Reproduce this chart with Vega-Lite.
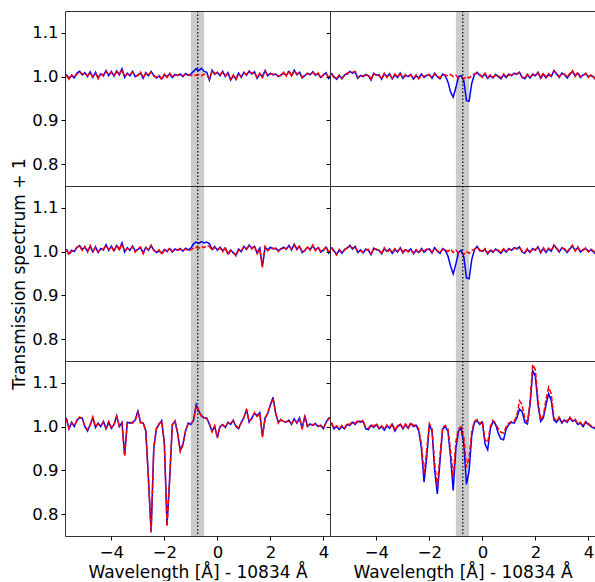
{
"$schema": "https://vega.github.io/schema/vega-lite/v6.json",
"padding": {"left": 10, "top": 9, "right": 0, "bottom": 0},
"config": {
  "font": "DejaVu Sans",
  "view": {"stroke": "#333", "strokeWidth": 1},
  "axis": {"labelFont": "DejaVu Sans", "titleFont": "DejaVu Sans", "labelFontSize": 16.5, "titleFontSize": 17, "titleFontWeight": "normal", "labelColor": "#000", "titleColor": "#000", "tickColor": "#000", "domain": false, "grid": false, "tickSize": 4, "labelFlush": false}
},
"data": {"values": [
{"x":-5.7,"a":1.005,"b":1.003,"c":1.006,"d":1.004,"e":1.02,"f":1.018,"g":1.008,"h":1.006,"i":1.01,"j":1.008,"k":1.008,"l":1.01},
{"x":-5.6,"a":0.996,"b":0.994,"c":0.995,"d":0.993,"e":0.995,"f":0.996,"g":1.0,"h":0.998,"i":1.002,"j":1.0,"k":0.995,"l":0.997},
{"x":-5.5,"a":1.002,"b":1.004,"c":1.003,"d":1.001,"e":1.01,"f":1.008,"g":0.994,"h":0.996,"i":0.994,"j":0.992,"k":1.0,"l":1.002},
{"x":-5.4,"a":0.997,"b":0.999,"c":1.0,"d":1.002,"e":1.0,"f":1.002,"g":1.002,"h":1.004,"i":1.003,"j":1.005,"k":0.993,"l":0.995},
{"x":-5.3,"a":1.008,"b":1.006,"c":1.009,"d":1.011,"e":1.015,"f":1.013,"g":0.995,"h":0.997,"i":0.996,"j":0.998,"k":1.0,"l":1.003},
{"x":-5.2,"a":1.012,"b":1.01,"c":1.014,"d":1.012,"e":1.02,"f":1.022,"g":1.004,"h":1.002,"i":1.005,"j":1.003,"k":0.995,"l":0.997},
{"x":-5.1,"a":1.004,"b":1.006,"c":1.005,"d":1.003,"e":1.02,"f":1.018,"g":1.006,"h":1.008,"i":1.008,"j":1.01,"k":1.005,"l":1.007},
{"x":-5.0,"a":1.009,"b":1.007,"c":1.01,"d":1.012,"e":1.0,"f":1.002,"g":1.012,"h":1.01,"i":1.014,"j":1.012,"k":1.003,"l":1.005},
{"x":-4.9,"a":1.0,"b":1.002,"c":1.001,"d":0.999,"e":0.99,"f":0.992,"g":1.008,"h":1.01,"i":1.006,"j":1.008,"k":1.01,"l":1.012},
{"x":-4.8,"a":1.011,"b":1.009,"c":1.012,"d":1.014,"e":1.005,"f":1.003,"g":1.01,"h":1.012,"i":1.012,"j":1.01,"k":1.005,"l":1.007},
{"x":-4.7,"a":0.998,"b":1.0,"c":0.999,"d":1.001,"e":1.02,"f":1.022,"g":0.996,"h":0.998,"i":0.998,"j":1.0,"k":1.012,"l":1.014},
{"x":-4.6,"a":1.01,"b":1.008,"c":1.011,"d":1.009,"e":0.998,"f":1.0,"g":1.003,"h":1.001,"i":1.004,"j":1.002,"k":1.01,"l":1.012},
{"x":-4.5,"a":0.997,"b":0.995,"c":0.998,"d":1.0,"e":1.008,"f":1.006,"g":1.0,"h":1.002,"i":0.997,"j":0.999,"k":1.012,"l":1.014},
{"x":-4.4,"a":1.006,"b":1.008,"c":1.007,"d":1.005,"e":1.0,"f":1.002,"g":1.005,"h":1.003,"i":1.006,"j":1.004,"k":0.995,"l":0.997},
{"x":-4.3,"a":1.003,"b":1.001,"c":1.004,"d":1.006,"e":1.012,"f":1.01,"g":1.002,"h":1.004,"i":1.003,"j":1.005,"k":0.993,"l":0.996},
{"x":-4.2,"a":1.014,"b":1.012,"c":1.016,"d":1.014,"e":0.995,"f":0.997,"g":0.992,"h":0.994,"i":0.993,"j":0.995,"k":1.003,"l":1.005},
{"x":-4.1,"a":1.002,"b":1.004,"c":1.003,"d":1.005,"e":1.01,"f":1.012,"g":1.008,"h":1.006,"i":1.008,"j":1.006,"k":0.998,"l":1.0},
{"x":-4.0,"a":1.012,"b":1.01,"c":1.013,"d":1.011,"e":0.996,"f":0.998,"g":1.003,"h":1.005,"i":1.004,"j":1.006,"k":1.005,"l":1.007},
{"x":-3.9,"a":1.001,"b":1.003,"c":1.002,"d":1.0,"e":1.005,"f":1.003,"g":1.004,"h":1.002,"i":1.003,"j":1.001,"k":0.995,"l":0.997},
{"x":-3.8,"a":1.013,"b":1.011,"c":1.014,"d":1.016,"e":1.025,"f":1.023,"g":0.994,"h":0.996,"i":0.995,"j":0.997,"k":1.0,"l":1.002},
{"x":-3.7,"a":1.004,"b":1.006,"c":1.005,"d":1.003,"e":1.0,"f":1.002,"g":1.006,"h":1.008,"i":1.007,"j":1.009,"k":0.992,"l":0.994},
{"x":-3.6,"a":1.018,"b":1.016,"c":1.02,"d":1.018,"e":1.01,"f":1.008,"g":1.0,"h":0.998,"i":1.001,"j":0.999,"k":1.002,"l":1.004},
{"x":-3.5,"a":0.998,"b":1.0,"c":0.999,"d":1.001,"e":0.935,"f":0.932,"g":1.007,"h":1.005,"i":1.006,"j":1.004,"k":0.996,"l":0.998},
{"x":-3.4,"a":1.008,"b":1.006,"c":1.009,"d":1.007,"e":1.01,"f":1.008,"g":0.995,"h":0.997,"i":0.996,"j":0.998,"k":1.005,"l":1.007},
{"x":-3.3,"a":1.002,"b":1.004,"c":1.003,"d":1.005,"e":1.008,"f":1.01,"g":1.004,"h":1.006,"i":1.005,"j":1.007,"k":0.99,"l":0.992},
{"x":-3.2,"a":1.012,"b":1.01,"c":1.013,"d":1.011,"e":1.01,"f":1.008,"g":0.998,"h":1.0,"i":0.999,"j":1.001,"k":1.0,"l":1.002},
{"x":-3.1,"a":1.0,"b":1.002,"c":1.001,"d":0.999,"e":1.015,"f":1.013,"g":1.008,"h":1.006,"i":1.009,"j":1.007,"k":1.005,"l":1.007},
{"x":-3.0,"a":1.004,"b":1.002,"c":1.005,"d":1.007,"e":1.035,"f":1.037,"g":0.996,"h":0.998,"i":0.997,"j":0.999,"k":0.995,"l":0.997},
{"x":-2.9,"a":1.008,"b":1.01,"c":1.009,"d":1.011,"e":1.01,"f":1.008,"g":1.003,"h":1.005,"i":1.004,"j":1.006,"k":1.004,"l":1.006},
{"x":-2.8,"a":0.996,"b":0.998,"c":0.997,"d":0.995,"e":1.008,"f":1.01,"g":1.0,"h":1.002,"i":1.001,"j":0.999,"k":0.996,"l":0.998},
{"x":-2.7,"a":1.009,"b":1.007,"c":1.01,"d":1.008,"e":0.99,"f":0.988,"g":1.005,"h":1.003,"i":1.006,"j":1.004,"k":1.007,"l":1.009},
{"x":-2.6,"a":1.002,"b":1.004,"c":1.003,"d":1.005,"e":0.88,"f":0.878,"g":0.994,"h":0.996,"i":0.995,"j":0.997,"k":1.0,"l":1.002},
{"x":-2.5,"a":1.012,"b":1.01,"c":1.013,"d":1.015,"e":0.76,"f":0.758,"g":1.002,"h":1.004,"i":1.003,"j":1.005,"k":1.003,"l":1.005},
{"x":-2.4,"a":1.003,"b":1.001,"c":1.004,"d":1.002,"e":0.95,"f":0.952,"g":0.997,"h":0.995,"i":0.998,"j":0.996,"k":0.99,"l":0.994},
{"x":-2.3,"a":0.997,"b":0.999,"c":0.998,"d":1.0,"e":0.995,"f":0.997,"g":1.006,"h":1.004,"i":1.007,"j":1.005,"k":0.95,"l":0.96},
{"x":-2.2,"a":1.001,"b":1.003,"c":1.002,"d":1.004,"e":1.005,"f":1.007,"g":0.998,"h":1.0,"i":0.999,"j":1.001,"k":0.873,"l":0.892},
{"x":-2.1,"a":0.995,"b":0.993,"c":0.996,"d":0.994,"e":1.014,"f":1.012,"g":1.003,"h":1.005,"i":1.004,"j":1.006,"k":0.93,"l":0.945},
{"x":-2.0,"a":1.004,"b":1.006,"c":1.005,"d":1.003,"e":0.96,"f":0.962,"g":1.005,"h":1.003,"i":1.006,"j":1.004,"k":1.005,"l":1.007},
{"x":-1.9,"a":1.0,"b":0.998,"c":1.001,"d":0.999,"e":0.775,"f":0.772,"g":0.996,"h":0.998,"i":0.997,"j":0.999,"k":0.99,"l":0.995},
{"x":-1.8,"a":1.006,"b":1.008,"c":1.007,"d":1.009,"e":0.88,"f":0.882,"g":1.008,"h":1.006,"i":1.009,"j":1.007,"k":0.9,"l":0.915},
{"x":-1.7,"a":0.998,"b":1.0,"c":0.999,"d":1.001,"e":1.005,"f":1.003,"g":1.0,"h":1.002,"i":1.001,"j":1.003,"k":0.846,"l":0.862},
{"x":-1.6,"a":1.005,"b":1.003,"c":1.006,"d":1.004,"e":1.012,"f":1.014,"g":0.995,"h":0.997,"i":0.996,"j":0.998,"k":0.92,"l":0.935},
{"x":-1.5,"a":1.002,"b":1.004,"c":1.003,"d":1.005,"e":0.985,"f":0.987,"g":1.006,"h":1.004,"i":1.007,"j":1.005,"k":0.995,"l":0.998},
{"x":-1.4,"a":1.006,"b":1.004,"c":1.007,"d":1.005,"e":0.945,"f":0.943,"g":1.002,"h":1.004,"i":1.003,"j":1.005,"k":1.0,"l":1.003},
{"x":-1.3,"a":1.0,"b":1.002,"c":1.001,"d":1.003,"e":0.96,"f":0.958,"g":0.988,"h":1.002,"i":0.99,"j":1.0,"k":0.99,"l":0.995},
{"x":-1.2,"a":1.007,"b":1.005,"c":1.008,"d":1.006,"e":0.99,"f":0.992,"g":0.965,"h":1.005,"i":0.967,"j":1.006,"k":0.93,"l":0.945},
{"x":-1.1,"a":1.003,"b":1.005,"c":1.004,"d":1.002,"e":1.008,"f":1.006,"g":0.953,"h":1.0,"i":0.949,"j":0.998,"k":0.854,"l":0.884},
{"x":-1.0,"a":1.006,"b":1.002,"c":1.008,"d":1.004,"e":1.005,"f":1.007,"g":0.975,"h":1.003,"i":0.972,"j":1.004,"k":0.95,"l":0.965},
{"x":-0.9,"a":1.012,"b":1.004,"c":1.018,"d":1.008,"e":1.015,"f":1.013,"g":1.0,"h":0.997,"i":0.998,"j":0.996,"k":0.99,"l":0.995},
{"x":-0.8,"a":1.018,"b":1.003,"c":1.022,"d":1.01,"e":1.05,"f":1.048,"g":1.002,"h":0.998,"i":1.003,"j":0.997,"k":0.996,"l":1.0},
{"x":-0.7,"a":1.014,"b":1.005,"c":1.019,"d":1.008,"e":1.035,"f":1.037,"g":0.99,"h":0.995,"i":0.988,"j":0.994,"k":0.96,"l":0.975},
{"x":-0.6,"a":1.019,"b":1.002,"c":1.023,"d":1.012,"e":1.025,"f":1.023,"g":0.945,"h":1.0,"i":0.94,"j":1.0,"k":0.868,"l":0.907},
{"x":-0.5,"a":1.012,"b":1.006,"c":1.02,"d":1.009,"e":1.02,"f":1.022,"g":0.944,"h":0.997,"i":0.938,"j":0.996,"k":0.9,"l":0.93},
{"x":-0.4,"a":1.01,"b":1.003,"c":1.022,"d":1.014,"e":1.02,"f":1.018,"g":0.985,"h":1.002,"i":0.982,"j":1.003,"k":0.98,"l":0.99},
{"x":-0.3,"a":0.992,"b":0.995,"c":1.018,"d":1.012,"e":1.005,"f":1.007,"g":1.005,"h":1.006,"i":1.004,"j":1.005,"k":1.01,"l":1.012},
{"x":-0.2,"a":1.015,"b":1.012,"c":1.005,"d":1.003,"e":0.99,"f":0.988,"g":1.01,"h":1.008,"i":1.012,"j":1.01,"k":1.014,"l":1.016},
{"x":-0.1,"a":1.005,"b":1.007,"c":1.012,"d":1.01,"e":1.0,"f":1.002,"g":1.003,"h":1.005,"i":1.002,"j":1.004,"k":1.005,"l":1.007},
{"x":0.0,"a":1.01,"b":1.008,"c":1.003,"d":1.005,"e":0.976,"f":0.974,"g":1.0,"h":0.998,"i":1.001,"j":0.999,"k":1.01,"l":1.012},
{"x":0.1,"a":1.002,"b":1.004,"c":1.01,"d":1.008,"e":1.0,"f":1.002,"g":1.006,"h":1.008,"i":1.005,"j":1.007,"k":0.96,"l":0.97},
{"x":0.2,"a":1.012,"b":1.01,"c":1.002,"d":1.0,"e":1.005,"f":1.003,"g":0.996,"h":0.998,"i":0.995,"j":0.997,"k":0.947,"l":0.964},
{"x":0.3,"a":1.0,"b":1.002,"c":1.008,"d":1.01,"e":0.998,"f":1.0,"g":1.002,"h":1.004,"i":1.003,"j":1.005,"k":0.995,"l":1.0},
{"x":0.4,"a":1.009,"b":1.007,"c":0.995,"d":0.993,"e":1.01,"f":1.008,"g":0.997,"h":0.999,"i":0.998,"j":1.0,"k":1.012,"l":1.014},
{"x":0.5,"a":0.992,"b":0.994,"c":1.004,"d":1.002,"e":1.005,"f":1.007,"g":1.005,"h":1.003,"i":1.006,"j":1.004,"k":1.005,"l":1.007},
{"x":0.6,"a":1.002,"b":1.004,"c":0.997,"d":0.999,"e":1.015,"f":1.013,"g":1.0,"h":1.002,"i":1.001,"j":1.003,"k":0.985,"l":0.995},
{"x":0.7,"a":0.995,"b":0.993,"c":0.992,"d":0.99,"e":1.0,"f":1.002,"g":0.995,"h":0.997,"i":0.996,"j":0.998,"k":0.972,"l":0.987},
{"x":0.8,"a":1.008,"b":1.006,"c":1.006,"d":1.004,"e":0.995,"f":0.997,"g":1.004,"h":1.006,"i":1.005,"j":1.007,"k":0.97,"l":0.985},
{"x":0.9,"a":0.998,"b":1.0,"c":1.0,"d":1.002,"e":1.01,"f":1.008,"g":0.998,"h":1.0,"i":0.999,"j":1.001,"k":0.995,"l":1.0},
{"x":1.0,"a":1.01,"b":1.008,"c":1.012,"d":1.01,"e":1.02,"f":1.022,"g":1.006,"h":1.004,"i":1.007,"j":1.005,"k":1.005,"l":1.008},
{"x":1.1,"a":1.003,"b":1.005,"c":1.005,"d":1.007,"e":1.04,"f":1.038,"g":1.002,"h":1.004,"i":1.003,"j":1.005,"k":1.01,"l":1.012},
{"x":1.2,"a":1.013,"b":1.011,"c":1.015,"d":1.013,"e":1.01,"f":1.012,"g":1.008,"h":1.006,"i":1.009,"j":1.007,"k":1.008,"l":1.012},
{"x":1.3,"a":1.006,"b":1.008,"c":1.008,"d":1.006,"e":1.02,"f":1.018,"g":1.005,"h":1.007,"i":1.006,"j":1.008,"k":1.02,"l":1.025},
{"x":1.4,"a":1.011,"b":1.009,"c":1.012,"d":1.014,"e":1.03,"f":1.032,"g":1.01,"h":1.008,"i":1.011,"j":1.009,"k":1.04,"l":1.059},
{"x":1.5,"a":0.996,"b":0.998,"c":0.997,"d":0.995,"e":1.025,"f":1.023,"g":0.998,"h":1.0,"i":0.999,"j":1.001,"k":1.035,"l":1.05},
{"x":1.6,"a":1.006,"b":1.008,"c":1.008,"d":1.006,"e":1.032,"f":1.03,"g":0.995,"h":0.997,"i":0.996,"j":0.998,"k":1.01,"l":1.018},
{"x":1.7,"a":1.0,"b":0.998,"c":0.967,"d":0.964,"e":0.978,"f":0.976,"g":1.004,"h":1.006,"i":1.005,"j":1.007,"k":1.006,"l":1.01},
{"x":1.8,"a":1.014,"b":1.012,"c":1.01,"d":1.012,"e":1.02,"f":1.018,"g":0.997,"h":0.999,"i":0.998,"j":1.0,"k":1.05,"l":1.058},
{"x":1.9,"a":1.002,"b":1.004,"c":1.004,"d":1.002,"e":1.03,"f":1.032,"g":1.006,"h":1.004,"i":1.007,"j":1.005,"k":1.128,"l":1.142},
{"x":2.0,"a":1.008,"b":1.006,"c":1.01,"d":1.008,"e":1.05,"f":1.048,"g":1.002,"h":1.004,"i":1.003,"j":1.005,"k":1.115,"l":1.13},
{"x":2.1,"a":1.004,"b":1.006,"c":1.006,"d":1.008,"e":1.067,"f":1.065,"g":1.01,"h":1.008,"i":1.011,"j":1.009,"k":1.05,"l":1.06},
{"x":2.2,"a":1.006,"b":1.004,"c":1.008,"d":1.006,"e":1.03,"f":1.032,"g":0.996,"h":0.998,"i":0.997,"j":0.999,"k":1.012,"l":1.015},
{"x":2.3,"a":1.0,"b":1.002,"c":1.002,"d":1.0,"e":1.01,"f":1.008,"g":1.006,"h":1.008,"i":1.007,"j":1.009,"k":1.02,"l":1.025},
{"x":2.4,"a":1.004,"b":1.002,"c":1.006,"d":1.008,"e":1.015,"f":1.017,"g":0.997,"h":0.999,"i":0.998,"j":1.0,"k":1.05,"l":1.062},
{"x":2.5,"a":1.008,"b":1.01,"c":1.01,"d":1.008,"e":1.012,"f":1.01,"g":1.005,"h":1.007,"i":1.006,"j":1.008,"k":1.075,"l":1.09},
{"x":2.6,"a":1.003,"b":1.001,"c":1.005,"d":1.007,"e":1.01,"f":1.012,"g":1.0,"h":1.002,"i":1.001,"j":1.003,"k":1.06,"l":1.075},
{"x":2.7,"a":1.012,"b":1.014,"c":1.014,"d":1.012,"e":1.015,"f":1.013,"g":1.014,"h":1.012,"i":1.015,"j":1.013,"k":1.015,"l":1.02},
{"x":2.8,"a":1.002,"b":1.0,"c":1.004,"d":1.006,"e":1.005,"f":1.007,"g":1.006,"h":1.008,"i":1.007,"j":1.009,"k":1.01,"l":1.013},
{"x":2.9,"a":1.015,"b":1.013,"c":1.017,"d":1.015,"e":1.018,"f":1.016,"g":0.998,"h":1.0,"i":0.999,"j":1.001,"k":1.02,"l":1.022},
{"x":3.0,"a":1.004,"b":1.006,"c":1.006,"d":1.004,"e":1.008,"f":1.01,"g":1.008,"h":1.006,"i":1.009,"j":1.007,"k":1.008,"l":1.01},
{"x":3.1,"a":1.01,"b":1.008,"c":1.012,"d":1.014,"e":1.02,"f":1.018,"g":1.004,"h":1.006,"i":1.005,"j":1.007,"k":1.015,"l":1.017},
{"x":3.2,"a":0.997,"b":0.999,"c":0.998,"d":1.0,"e":0.995,"f":0.997,"g":0.997,"h":0.999,"i":0.998,"j":1.0,"k":1.01,"l":1.012},
{"x":3.3,"a":1.002,"b":1.004,"c":1.003,"d":1.001,"e":1.025,"f":1.023,"g":1.005,"h":1.007,"i":1.006,"j":1.008,"k":1.02,"l":1.022},
{"x":3.4,"a":1.008,"b":1.006,"c":1.01,"d":1.012,"e":1.0,"f":1.002,"g":1.012,"h":1.014,"i":1.013,"j":1.015,"k":1.012,"l":1.014},
{"x":3.5,"a":1.004,"b":1.006,"c":1.005,"d":1.003,"e":1.006,"f":1.004,"g":1.002,"h":1.0,"i":1.003,"j":1.001,"k":1.015,"l":1.017},
{"x":3.6,"a":1.011,"b":1.009,"c":1.013,"d":1.015,"e":1.003,"f":1.005,"g":1.008,"h":1.01,"i":1.009,"j":1.011,"k":1.005,"l":1.007},
{"x":3.7,"a":1.003,"b":1.005,"c":1.004,"d":1.002,"e":1.007,"f":1.005,"g":0.998,"h":1.0,"i":0.999,"j":1.001,"k":1.008,"l":1.01},
{"x":3.8,"a":1.007,"b":1.009,"c":1.009,"d":1.011,"e":1.0,"f":1.002,"g":1.004,"h":1.002,"i":1.005,"j":1.003,"k":1.0,"l":1.002},
{"x":3.9,"a":0.998,"b":0.996,"c":0.999,"d":1.001,"e":1.003,"f":1.001,"g":1.006,"h":1.008,"i":1.007,"j":1.009,"k":1.01,"l":1.012},
{"x":4.0,"a":1.003,"b":1.005,"c":1.004,"d":1.002,"e":0.995,"f":0.997,"g":1.0,"h":0.998,"i":1.001,"j":0.999,"k":1.005,"l":1.007},
{"x":4.1,"a":1.009,"b":1.007,"c":1.01,"d":1.012,"e":1.01,"f":1.008,"g":1.003,"h":1.005,"i":1.004,"j":1.006,"k":1.0,"l":1.002},
{"x":4.2,"a":0.996,"b":0.998,"c":0.997,"d":0.999,"e":1.02,"f":1.018,"g":0.998,"h":1.0,"i":0.999,"j":1.001,"k":0.997,"l":0.999},
{"x":4.3,"a":1.005,"b":1.003,"c":1.006,"d":1.004,"e":1.02,"f":1.022,"g":0.992,"h":0.99,"i":0.993,"j":0.991,"k":0.995,"l":0.997}
]},
"columns": 2,
"spacing": 0,
"bounds": "flush",
"concat": [
  {"width": 265, "height": 175, "layer": [
   {"data": {"values": [{"b1": -1.0, "b2": -0.5}]}, "mark": {"type": "rect", "color": "#000", "opacity": 0.2}, "encoding": {"x": {"field": "b1", "type": "quantitative", "scale": {"domain": [-5.75, 4.25], "nice": false, "zero": false}, "axis": null}, "x2": {"field": "b2"}, "y": {"datum": 0.75, "type": "quantitative", "scale": {"domain": [0.75, 1.15], "nice": false, "zero": false}, "axis": {"values": [0.8, 0.9, 1.0, 1.1], "format": ".1f", "title": null, "labelPadding": 3}}, "y2": {"datum": 1.15}}},
   {"mark": {"type": "line", "color": "#0000ff", "strokeWidth": 1.5, "clip": true}, "encoding": {"x": {"field": "x", "type": "quantitative", "scale": {"domain": [-5.75, 4.25], "nice": false, "zero": false}, "axis": null}, "y": {"field": "a", "type": "quantitative", "scale": {"domain": [0.75, 1.15], "nice": false, "zero": false}, "axis": {"values": [0.8, 0.9, 1.0, 1.1], "format": ".1f", "title": null, "labelPadding": 3}}}},
   {"mark": {"type": "line", "color": "#ff0000", "strokeWidth": 1.5, "strokeDash": [5, 2], "clip": true}, "encoding": {"x": {"field": "x", "type": "quantitative", "axis": null}, "y": {"field": "b", "type": "quantitative", "axis": {"values": [0.8, 0.9, 1.0, 1.1], "format": ".1f", "title": null, "labelPadding": 3}}}},
   {"data": {"values": [{"v": -0.74}]}, "mark": {"type": "rule", "color": "#000", "strokeWidth": 1.2, "strokeDash": [1.5, 2]}, "encoding": {"x": {"field": "v", "type": "quantitative", "axis": null}}}
  ]},
  {"width": 265, "height": 175, "layer": [
   {"data": {"values": [{"b1": -1.0, "b2": -0.5}]}, "mark": {"type": "rect", "color": "#000", "opacity": 0.2}, "encoding": {"x": {"field": "b1", "type": "quantitative", "scale": {"domain": [-5.75, 4.25], "nice": false, "zero": false}, "axis": null}, "x2": {"field": "b2"}, "y": {"datum": 0.75, "type": "quantitative", "scale": {"domain": [0.75, 1.15], "nice": false, "zero": false}, "axis": {"values": [0.8, 0.9, 1.0, 1.1], "labels": false, "title": null}}, "y2": {"datum": 1.15}}},
   {"mark": {"type": "line", "color": "#0000ff", "strokeWidth": 1.5, "clip": true}, "encoding": {"x": {"field": "x", "type": "quantitative", "scale": {"domain": [-5.75, 4.25], "nice": false, "zero": false}, "axis": null}, "y": {"field": "g", "type": "quantitative", "scale": {"domain": [0.75, 1.15], "nice": false, "zero": false}, "axis": {"values": [0.8, 0.9, 1.0, 1.1], "labels": false, "title": null}}}},
   {"mark": {"type": "line", "color": "#ff0000", "strokeWidth": 1.5, "strokeDash": [5, 2], "clip": true}, "encoding": {"x": {"field": "x", "type": "quantitative", "axis": null}, "y": {"field": "h", "type": "quantitative", "axis": {"values": [0.8, 0.9, 1.0, 1.1], "labels": false, "title": null}}}},
   {"data": {"values": [{"v": -0.74}]}, "mark": {"type": "rule", "color": "#000", "strokeWidth": 1.2, "strokeDash": [1.5, 2]}, "encoding": {"x": {"field": "v", "type": "quantitative", "axis": null}}}
  ]},
  {"width": 265, "height": 175, "layer": [
   {"data": {"values": [{"b1": -1.0, "b2": -0.5}]}, "mark": {"type": "rect", "color": "#000", "opacity": 0.2}, "encoding": {"x": {"field": "b1", "type": "quantitative", "scale": {"domain": [-5.75, 4.25], "nice": false, "zero": false}, "axis": null}, "x2": {"field": "b2"}, "y": {"datum": 0.75, "type": "quantitative", "scale": {"domain": [0.75, 1.15], "nice": false, "zero": false}, "axis": {"values": [0.8, 0.9, 1.0, 1.1], "format": ".1f", "title": "Transmission spectrum + 1", "labelPadding": 3, "titlePadding": 3}}, "y2": {"datum": 1.15}}},
   {"mark": {"type": "line", "color": "#0000ff", "strokeWidth": 1.5, "clip": true}, "encoding": {"x": {"field": "x", "type": "quantitative", "scale": {"domain": [-5.75, 4.25], "nice": false, "zero": false}, "axis": null}, "y": {"field": "c", "type": "quantitative", "scale": {"domain": [0.75, 1.15], "nice": false, "zero": false}, "axis": {"values": [0.8, 0.9, 1.0, 1.1], "format": ".1f", "title": "Transmission spectrum + 1", "labelPadding": 3, "titlePadding": 3}}}},
   {"mark": {"type": "line", "color": "#ff0000", "strokeWidth": 1.5, "strokeDash": [5, 2], "clip": true}, "encoding": {"x": {"field": "x", "type": "quantitative", "axis": null}, "y": {"field": "d", "type": "quantitative", "axis": {"values": [0.8, 0.9, 1.0, 1.1], "format": ".1f", "title": "Transmission spectrum + 1", "labelPadding": 3, "titlePadding": 3}}}},
   {"data": {"values": [{"v": -0.74}]}, "mark": {"type": "rule", "color": "#000", "strokeWidth": 1.2, "strokeDash": [1.5, 2]}, "encoding": {"x": {"field": "v", "type": "quantitative", "axis": null}}}
  ]},
  {"width": 265, "height": 175, "layer": [
   {"data": {"values": [{"b1": -1.0, "b2": -0.5}]}, "mark": {"type": "rect", "color": "#000", "opacity": 0.2}, "encoding": {"x": {"field": "b1", "type": "quantitative", "scale": {"domain": [-5.75, 4.25], "nice": false, "zero": false}, "axis": null}, "x2": {"field": "b2"}, "y": {"datum": 0.75, "type": "quantitative", "scale": {"domain": [0.75, 1.15], "nice": false, "zero": false}, "axis": {"values": [0.8, 0.9, 1.0, 1.1], "labels": false, "title": null}}, "y2": {"datum": 1.15}}},
   {"mark": {"type": "line", "color": "#0000ff", "strokeWidth": 1.5, "clip": true}, "encoding": {"x": {"field": "x", "type": "quantitative", "scale": {"domain": [-5.75, 4.25], "nice": false, "zero": false}, "axis": null}, "y": {"field": "i", "type": "quantitative", "scale": {"domain": [0.75, 1.15], "nice": false, "zero": false}, "axis": {"values": [0.8, 0.9, 1.0, 1.1], "labels": false, "title": null}}}},
   {"mark": {"type": "line", "color": "#ff0000", "strokeWidth": 1.5, "strokeDash": [5, 2], "clip": true}, "encoding": {"x": {"field": "x", "type": "quantitative", "axis": null}, "y": {"field": "j", "type": "quantitative", "axis": {"values": [0.8, 0.9, 1.0, 1.1], "labels": false, "title": null}}}},
   {"data": {"values": [{"v": -0.74}]}, "mark": {"type": "rule", "color": "#000", "strokeWidth": 1.2, "strokeDash": [1.5, 2]}, "encoding": {"x": {"field": "v", "type": "quantitative", "axis": null}}}
  ]},
  {"width": 265, "height": 175, "layer": [
   {"data": {"values": [{"b1": -1.0, "b2": -0.5}]}, "mark": {"type": "rect", "color": "#000", "opacity": 0.2}, "encoding": {"x": {"field": "b1", "type": "quantitative", "scale": {"domain": [-5.75, 4.25], "nice": false, "zero": false}, "axis": {"values": [-4, -2, 0, 2, 4], "format": "d", "title": "Wavelength [Å] - 10834 Å", "labelPadding": 4, "titlePadding": 4}}, "x2": {"field": "b2"}, "y": {"datum": 0.75, "type": "quantitative", "scale": {"domain": [0.75, 1.15], "nice": false, "zero": false}, "axis": {"values": [0.8, 0.9, 1.0, 1.1], "format": ".1f", "title": null, "labelPadding": 3}}, "y2": {"datum": 1.15}}},
   {"mark": {"type": "line", "color": "#0000ff", "strokeWidth": 1.5, "clip": true}, "encoding": {"x": {"field": "x", "type": "quantitative", "scale": {"domain": [-5.75, 4.25], "nice": false, "zero": false}, "axis": {"values": [-4, -2, 0, 2, 4], "format": "d", "title": "Wavelength [Å] - 10834 Å", "labelPadding": 4, "titlePadding": 4}}, "y": {"field": "e", "type": "quantitative", "scale": {"domain": [0.75, 1.15], "nice": false, "zero": false}, "axis": {"values": [0.8, 0.9, 1.0, 1.1], "format": ".1f", "title": null, "labelPadding": 3}}}},
   {"mark": {"type": "line", "color": "#ff0000", "strokeWidth": 1.5, "strokeDash": [5, 2], "clip": true}, "encoding": {"x": {"field": "x", "type": "quantitative", "axis": {"values": [-4, -2, 0, 2, 4], "format": "d", "title": "Wavelength [Å] - 10834 Å", "labelPadding": 4, "titlePadding": 4}}, "y": {"field": "f", "type": "quantitative", "axis": {"values": [0.8, 0.9, 1.0, 1.1], "format": ".1f", "title": null, "labelPadding": 3}}}},
   {"data": {"values": [{"v": -0.74}]}, "mark": {"type": "rule", "color": "#000", "strokeWidth": 1.2, "strokeDash": [1.5, 2]}, "encoding": {"x": {"field": "v", "type": "quantitative", "axis": {"values": [-4, -2, 0, 2, 4], "format": "d", "title": "Wavelength [Å] - 10834 Å", "labelPadding": 4, "titlePadding": 4}}}}
  ]},
  {"width": 265, "height": 175, "layer": [
   {"data": {"values": [{"b1": -1.0, "b2": -0.5}]}, "mark": {"type": "rect", "color": "#000", "opacity": 0.2}, "encoding": {"x": {"field": "b1", "type": "quantitative", "scale": {"domain": [-5.75, 4.25], "nice": false, "zero": false}, "axis": {"values": [-4, -2, 0, 2, 4], "format": "d", "title": "Wavelength [Å] - 10834 Å", "labelPadding": 4, "titlePadding": 4}}, "x2": {"field": "b2"}, "y": {"datum": 0.75, "type": "quantitative", "scale": {"domain": [0.75, 1.15], "nice": false, "zero": false}, "axis": {"values": [0.8, 0.9, 1.0, 1.1], "labels": false, "title": null}}, "y2": {"datum": 1.15}}},
   {"mark": {"type": "line", "color": "#0000ff", "strokeWidth": 1.5, "clip": true}, "encoding": {"x": {"field": "x", "type": "quantitative", "scale": {"domain": [-5.75, 4.25], "nice": false, "zero": false}, "axis": {"values": [-4, -2, 0, 2, 4], "format": "d", "title": "Wavelength [Å] - 10834 Å", "labelPadding": 4, "titlePadding": 4}}, "y": {"field": "k", "type": "quantitative", "scale": {"domain": [0.75, 1.15], "nice": false, "zero": false}, "axis": {"values": [0.8, 0.9, 1.0, 1.1], "labels": false, "title": null}}}},
   {"mark": {"type": "line", "color": "#ff0000", "strokeWidth": 1.5, "strokeDash": [5, 2], "clip": true}, "encoding": {"x": {"field": "x", "type": "quantitative", "axis": {"values": [-4, -2, 0, 2, 4], "format": "d", "title": "Wavelength [Å] - 10834 Å", "labelPadding": 4, "titlePadding": 4}}, "y": {"field": "l", "type": "quantitative", "axis": {"values": [0.8, 0.9, 1.0, 1.1], "labels": false, "title": null}}}},
   {"data": {"values": [{"v": -0.74}]}, "mark": {"type": "rule", "color": "#000", "strokeWidth": 1.2, "strokeDash": [1.5, 2]}, "encoding": {"x": {"field": "v", "type": "quantitative", "axis": {"values": [-4, -2, 0, 2, 4], "format": "d", "title": "Wavelength [Å] - 10834 Å", "labelPadding": 4, "titlePadding": 4}}}}
  ]}
]
}
